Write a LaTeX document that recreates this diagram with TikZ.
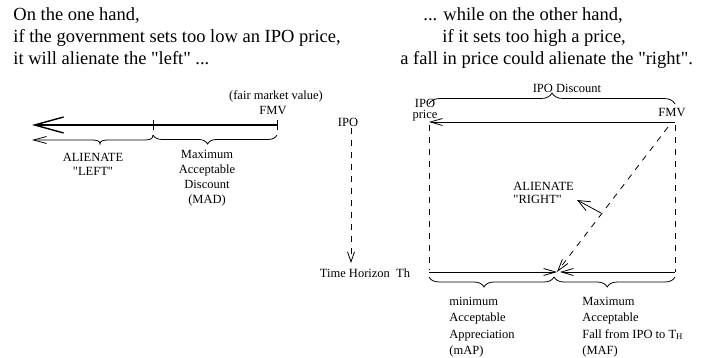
\documentclass[tikz,border=0pt]{standalone}
\usepackage{fontspec}
\setmainfont{Liberation Serif}
\usetikzlibrary{arrows.meta,decorations.pathreplacing}

\begin{document}
\begin{tikzpicture}[x=1pt, y=-1pt, line width=0.8pt,
    headline/.style={font=\fontsize{18.5}{22}\selectfont, anchor=base west, inner sep=0pt},
    tag/.style={font=\fontsize{12.5}{15}\selectfont, inner sep=0pt},
    guide/.style={dash pattern=on 6pt off 6pt},
    barb/.style={-{Straight Barb[length=12pt,width=7pt]}},
    brc/.style={decorate, decoration={brace, amplitude=#1, aspect=0.44}}]

    \useasboundingbox (0,0) rectangle (710,358);

    % --- Headlines ---
    \node[headline] (oneA) at (13,21) {On the one hand,};
    \node[headline] (oneB) at (13,43) {if the government sets too low an IPO price,};
    \node[headline] (oneC) at (13,65) {it will alienate the \textquotedbl left\textquotedbl{} ...};
    \node[headline] (otherA) at (423,21) {... while on the other hand,};
    \node[headline] (otherB) at (442,43) {if it sets too high a price,};
    \node[headline] (otherC) at (400,65) {a fall in price could alienate the \textquotedbl right\textquotedbl.};

    % --- Left scale: too low a price ---
    \coordinate (tipL) at (32,125);
    \coordinate (madM) at (153,125);
    \coordinate (fmvL) at (277,125);
    \draw[line width=1.4pt, -{Straight Barb[length=29pt,width=16pt]}] (fmvL) -- (tipL);
    \draw (madM) ++(0,-5) -- ++(0,10);
    \draw (fmvL) ++(0,-5) -- ++(0,10);

    % brace with arrow (alienate left) and brace for MAD
    \draw[-{Straight Barb[length=13pt,width=7pt]}] (153,135) .. controls (153,139) and (150,140) .. (144,140)
        -- (108,140) .. controls (103,140) and (100,141) .. (100,144)
        .. controls (100,141) and (97,140) .. (92,140) -- (32,140);
    \draw[brc=9, decoration={mirror}] (153,135) -- (277,135);

    \node[tag] (fairLbl) at (276,96) {(fair market value)};
    \node[tag] (fmvLbl) at (273,111) {FMV};
    \node[tag, align=center, font=\fontsize{12.5}{14}\selectfont] (leftLbl) at (93,164) {ALIENATE\\\textquotedbl LEFT\textquotedbl};
    \node[tag, align=center] (madLbl) at (207,178) {Maximum\\Acceptable\\Discount\\(MAD)};

    % --- Time axis ---
    \node[tag] (ipoLbl) at (348,122) {IPO};
    \coordinate (ipoTop) at (351,128);
    \coordinate (ipoEnd) at (351,263);
    \draw[guide, -{Straight Barb[length=10pt,width=7pt]}] (ipoTop) -- (ipoEnd);
    \node[tag] (thLbl) at (365,273) {Time Horizon~ Th};

    % --- Right box: too high a price ---
    \coordinate (ipoP) at (429,122);
    \coordinate (fmvP) at (675,122);
    \coordinate (ipoB) at (429,272);
    \coordinate (fmvB) at (675,272);
    \coordinate (meet) at (557,272);
    \coordinate (meetR) at (560,272);
    \coordinate (fmvD) at (668,127);
    \coordinate (rightPt) at (601,213);
    \coordinate (rightTip) at (577,200);

    \draw[barb] (fmvP) -- (ipoP);
    \draw[guide] (429,125) -- (429,270);
    \draw[guide] (675,125) -- (fmvB);
    \draw[barb] (ipoB) -- (meet);
    \draw[barb] (fmvB) -- (meetR);
    \draw[guide, barb] (fmvD) -- (meet);
    \draw[-{Straight Barb[length=12pt,width=10pt]}] (rightPt) -- (rightTip);

    % braces
    \draw[decorate, decoration={brace, amplitude=11}] (429,104) -- (675,104);
    \draw[brc=10, decoration={mirror}] (429,277) -- (554,277);
    \draw[brc=10, decoration={mirror}] (554,277) -- (675,277);

    % labels
    \node[tag, align=center, font=\fontsize{12.5}{11.5}\selectfont] (ipoPLbl) at (425,110) {IPO\\price};
    \node[tag] (fmvPLbl) at (672,113) {FMV};
    \node[tag] (discLbl) at (567,88) {IPO Discount};
    \node[tag, align=left, anchor=west, font=\fontsize{12.5}{13}\selectfont] (rightLbl) at (513,193) {ALIENATE\\\textquotedbl RIGHT\textquotedbl};
    \node[tag, align=left, anchor=west, font=\fontsize{12.5}{16.5}\selectfont] (mapLbl) at (449,327) {minimum\\Acceptable\\Appreciation\\(mAP)};
    \node[tag, align=left, anchor=west, font=\fontsize{12.5}{16.5}\selectfont] (mafLbl) at (582,327) {Maximum\\Acceptable\\Fall from IPO to T\textsubscript{H}\\(MAF)};

\end{tikzpicture}
\end{document}
